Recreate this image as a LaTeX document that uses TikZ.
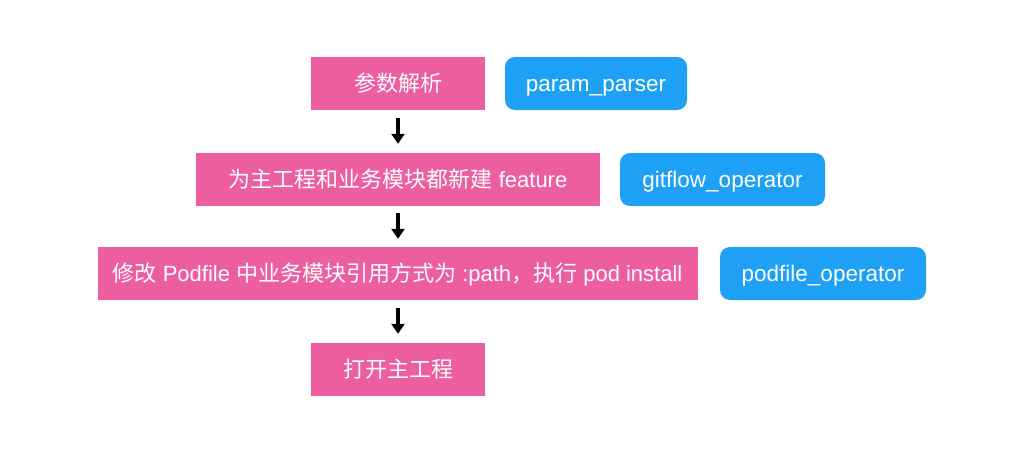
\documentclass[tikz,border=0pt]{standalone}
\usepackage{fontspec}
\setmainfont{Liberation Sans}
\newfontfamily\cjk{Noto Sans CJK SC}
\newcommand{\zh}[1]{{\cjk\fontsize{22}{24}\selectfont #1}}
\usetikzlibrary{arrows.meta}
\definecolor{pinkbox}{RGB}{236,94,160}
\definecolor{bluebox}{RGB}{30,160,245}
\begin{document}
\begin{tikzpicture}[x=1pt,y=-1pt,
  pinkstep/.style={fill=pinkbox,text=white,inner sep=0pt,text height=17pt,text depth=2pt,font=\fontsize{22}{24}\selectfont},
  bluetag/.style={fill=bluebox,text=white,rounded corners=10pt,inner sep=0pt,text height=17pt,text depth=2pt,font=\fontsize{22.5}{24}\selectfont},
  flowarrow/.style={line width=3.5pt,-{Triangle[length=10pt,width=13pt]},black}]
\useasboundingbox[fill=white] (0,0) rectangle (1024,455);
\node[pinkstep,minimum width=174pt,minimum height=53pt] (b1) at (398,83.5) {\zh{参数解析}};
\node[bluetag,minimum width=182pt,minimum height=53pt] (t1) at (596,83.5) {param\_parser};
\node[pinkstep,minimum width=404pt,minimum height=53pt] (b2) at (398,179.5) {\zh{为主工程和业务模块都新建} feature};
\node[bluetag,minimum width=205pt,minimum height=53pt] (t2) at (722.5,179.5) {gitflow\_operator};
\node[pinkstep,minimum width=600pt,minimum height=53pt] (b3) at (397.5,273.5) {\zh{修改} Podfile \zh{中业务模块引用方式为} :path\zh{，执行} pod install};
\node[bluetag,minimum width=206pt,minimum height=53pt] (t3) at (823,273.5) {podfile\_operator};
\node[pinkstep,minimum width=174pt,minimum height=53pt] (b4) at (398,369.5) {\zh{打开主工程}};
\draw[flowarrow] ([yshift=-8pt]b1.south) -- ([yshift=9pt]b2.north);
\draw[flowarrow] ([yshift=-7pt]b2.south) -- ([yshift=8pt]b2.south |- b3.north);
\draw[flowarrow] ([yshift=-8pt]b4.north |- b3.south) -- ([yshift=9pt]b4.north);
\end{tikzpicture}
\end{document}
